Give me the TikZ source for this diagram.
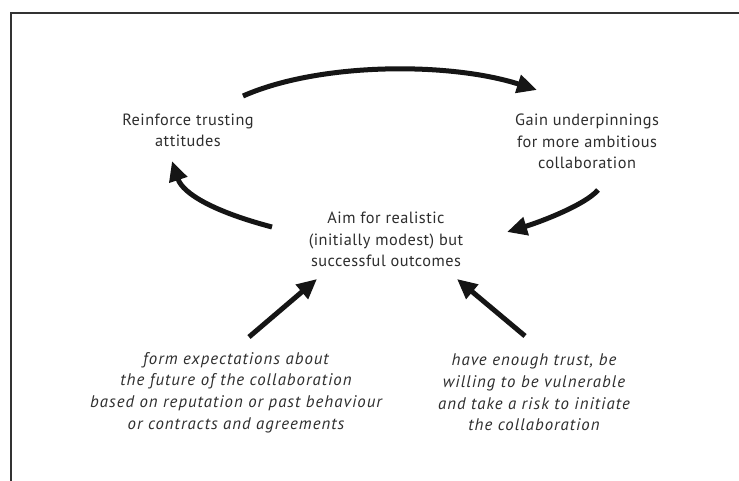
\documentclass[tikz,border=0pt]{standalone}
\usepackage{fontspec}
\setmainfont{PT Sans}
\usetikzlibrary{arrows.meta}
\definecolor{txt}{HTML}{2E2E2E}
\definecolor{arr}{HTML}{151515}
\tikzset{
  lbl/.style={align=center, text=txt, font=\fontsize{16.3}{21.5}\selectfont\addfontfeature{LetterSpace=3}, inner sep=0pt},
  ilbl/.style={lbl, font=\fontsize{16.8}{21.7}\selectfont\itshape\addfontfeature{LetterSpace=6}},
  bigarrow/.style={draw=arr, line width=5pt, -{Triangle[length=20pt,width=18pt]}},
  frameline/.style={draw=black!80, line width=2pt}
}
\begin{document}
\begin{tikzpicture}[x=1pt,y=-1pt]
\useasboundingbox (0,0) rectangle (739,481);
\fill[white] (0,0) rectangle (739,481);
\draw[frameline] (739,13) -- (11,13) -- (11,481);

\node[lbl] (reinf) at (188,130.5) {Reinforce trusting\\attitudes};
\node[lbl] (gain) at (587,141.5) {Gain underpinnings\\for more ambitious\\collaboration};
\node[lbl] (aim) at (386,239.5) {Aim for realistic\\(initially modest) but\\successful outcomes};
\node[ilbl] (form) at (236,392.5) {form expectations about\\the future of the collaboration\\based on reputation or past behaviour\\or contracts and agreements};
\node[ilbl] (trust) at (534,392.5) {have enough trust, be\\willing to be vulnerable\\and take a risk to initiate\\the collaboration};

\coordinate (t0) at (243,96);
\coordinate (t1) at (537,90);
\coordinate (r0) at (598,190);
\coordinate (r1) at (507,232);
\coordinate (l0) at (272,227);
\coordinate (l1) at (172,161);
\coordinate (bl0) at (249,337);
\coordinate (bl1) at (317,279);
\coordinate (br0) at (525,336);
\coordinate (br1) at (457,279);

\draw[bigarrow] (t0) .. controls (320,62) and (450,62) .. (t1);
\draw[bigarrow] (r0) .. controls (585,205) and (540,222) .. (r1);
\draw[bigarrow] (l0) .. controls (215,212) and (183,194) .. (l1);
\draw[bigarrow] (bl0) -- (bl1);
\draw[bigarrow] (br0) -- (br1);
\end{tikzpicture}
\end{document}
